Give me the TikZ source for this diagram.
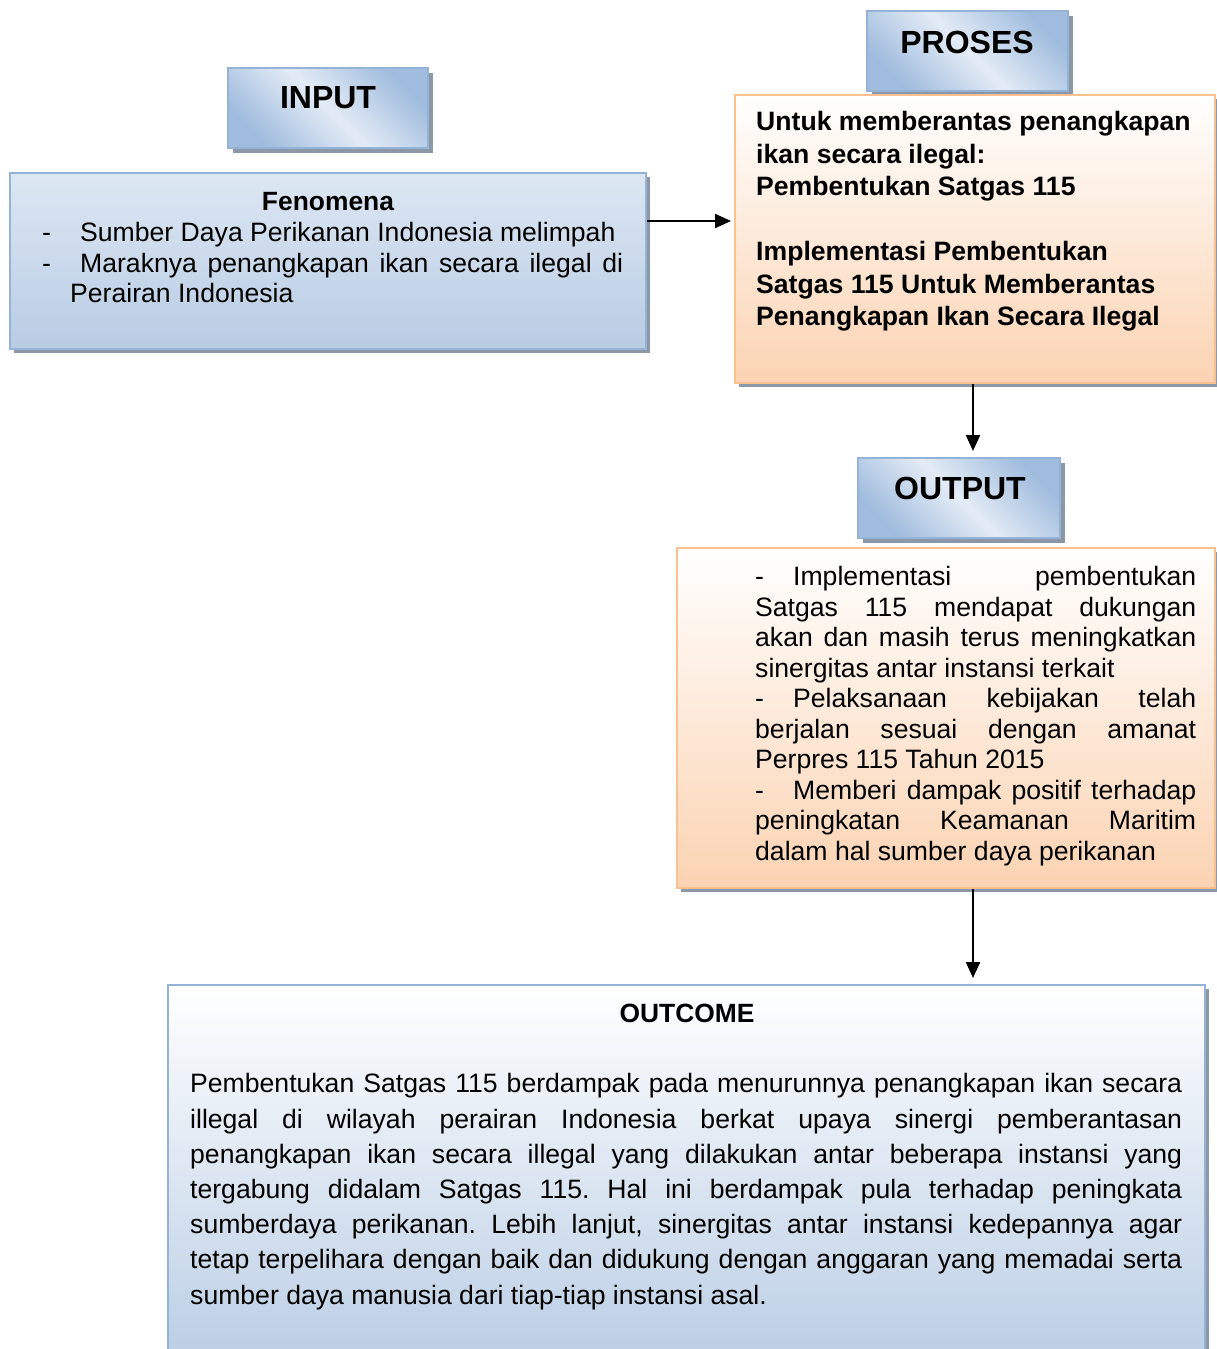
\documentclass[tikz,border=0pt]{standalone}
\usepackage{fontspec}
\setmainfont{Liberation Sans}
\usetikzlibrary{arrows.meta,shadows}
\definecolor{bluebd}{RGB}{149,179,215}
\definecolor{bluedk}{RGB}{160,188,222}
\definecolor{bluelt}{RGB}{228,236,246}
\definecolor{bluetop}{RGB}{221,231,243}
\definecolor{bluebot}{RGB}{184,204,228}
\definecolor{orbd}{RGB}{250,192,144}
\definecolor{orbot}{RGB}{251,211,178}
\definecolor{shade}{RGB}{140,152,168}
\frenchspacing

\begin{document}
\begin{tikzpicture}[x=1pt, y=-1pt,
    hdr/.style={draw=bluebd, line width=2pt, inner sep=0pt, top color=bluedk, bottom color=bluedk, middle color=bluelt, shading angle=135,
        general shadow={fill=shade, shadow xshift=5pt, shadow yshift=-5pt}},
    bbox/.style={draw=bluebd, line width=2pt, inner sep=0pt, top color=bluetop, bottom color=bluebot,
        general shadow={fill=shade, shadow xshift=4pt, shadow yshift=-4pt}},
    obox/.style={draw=orbd, line width=2pt, inner sep=0pt, top color=white, bottom color=orbot,
        general shadow={fill=shade, shadow xshift=4pt, shadow yshift=-4pt}},
    hdrtxt/.style={font=\bfseries\fontsize{32pt}{38pt}\selectfont},
    txt/.style={font=\fontsize{26.6pt}{30.5pt}\selectfont, inner sep=0pt, align=left, anchor=north west},
    arr/.style={-{Triangle[length=16pt,width=14pt]}, line width=2.2pt}]
    \useasboundingbox (0,0) rectangle (1216,1349);

    % headers
    \node[hdr, minimum width=200pt, minimum height=80pt] (input) at (328,108) {};
    \node[hdrtxt] (inputt) at (328,98) {INPUT};
    \node[hdr, minimum width=201pt, minimum height=80pt] (proses) at (967.5,51) {};
    \node[hdrtxt] (prosest) at (967,42) {PROSES};

    % input box
    \node[bbox, minimum width=636pt, minimum height=176pt] (fen) at (328,261) {};
    \node[font=\bfseries\fontsize{26.4pt}{30pt}\selectfont] (fent) at (328,202) {Fenomena};
    \node[txt] (fenl) at (42,222.5) {\makebox[38pt][l]{-}Sumber Daya Perikanan Indonesia melimpah\\
        \makebox[38pt][l]{-}\makebox[543pt][s]{Maraknya penangkapan ikan secara ilegal di}\\
        \hspace*{28pt}Perairan Indonesia};

    % proses box
    \node[obox, minimum width=480pt, minimum height=288pt] (proc) at (975,239) {};
    \node[txt, font=\bfseries\fontsize{26.6pt}{32.5pt}\selectfont] (procl) at (756,111.5) {Untuk memberantas penangkapan\\
        ikan secara ilegal:\\
        Pembentukan Satgas 115\\[32.5pt]
        Implementasi Pembentukan\\
        Satgas 115 Untuk Memberantas\\
        Penangkapan Ikan Secara Ilegal};

    % output
    \node[hdr, minimum width=202pt, minimum height=80pt] (output) at (959,498) {};
    \node[hdrtxt] (outputt) at (960,488) {OUTPUT};
    \node[obox, minimum width=538pt, minimum height=340pt] (outbox) at (946,718) {};
    \node[txt] (outl) at (755,566.5) {\makebox[38pt][l]{-}\makebox[403pt][s]{Implementasi pembentukan}\\
        \makebox[441pt][s]{Satgas 115 mendapat dukungan}\\
        \makebox[441pt][s]{akan dan masih terus meningkatkan}\\
        sinergitas antar instansi terkait\\
        \makebox[38pt][l]{-}\makebox[403pt][s]{Pelaksanaan kebijakan telah}\\
        \makebox[441pt][s]{berjalan sesuai dengan amanat}\\
        Perpres 115 Tahun 2015\\
        \makebox[38pt][l]{-}\makebox[403pt][s]{Memberi dampak positif terhadap}\\
        \makebox[441pt][s]{peningkatan Keamanan Maritim}\\
        dalam hal sumber daya perikanan};

    % outcome
    \node[bbox, top color=white, bottom color=bluebot, minimum width=1037pt, minimum height=390pt] (outcome) at (686.5,1180) {};
    \node[font=\bfseries\fontsize{26.4pt}{30pt}\selectfont] (outcomet) at (687,1013) {OUTCOME};
    \node[txt, font=\fontsize{26.6pt}{35.2pt}\selectfont] (outcomel) at (190,1073.5) {\makebox[992pt][s]{Pembentukan Satgas 115 berdampak pada menurunnya penangkapan ikan secara}\\
        \makebox[992pt][s]{illegal di wilayah perairan Indonesia berkat upaya sinergi pemberantasan}\\
        \makebox[992pt][s]{penangkapan ikan secara illegal yang dilakukan antar beberapa instansi yang}\\
        \makebox[992pt][s]{tergabung didalam Satgas 115. Hal ini berdampak pula terhadap peningkata}\\
        \makebox[992pt][s]{sumberdaya perikanan. Lebih lanjut, sinergitas antar instansi kedepannya agar}\\
        \makebox[992pt][s]{tetap terpelihara dengan baik dan didukung dengan anggaran yang memadai serta}\\
        sumber daya manusia dari tiap-tiap instansi asal.};

    % connectors
    \coordinate (a1) at ([yshift=40pt]fen.east);
    \draw[arr, shorten >=3pt] (a1) -- (a1 -| proc.west);
    \coordinate (a2) at ([xshift=-2pt]proc.south);
    \draw[arr, shorten >=6pt] (a2) -- (a2 |- output.north);
    \draw[arr, shorten >=6pt] (outbox.south -| a2) -- (a2 |- outcome.north);
\end{tikzpicture}
\end{document}
